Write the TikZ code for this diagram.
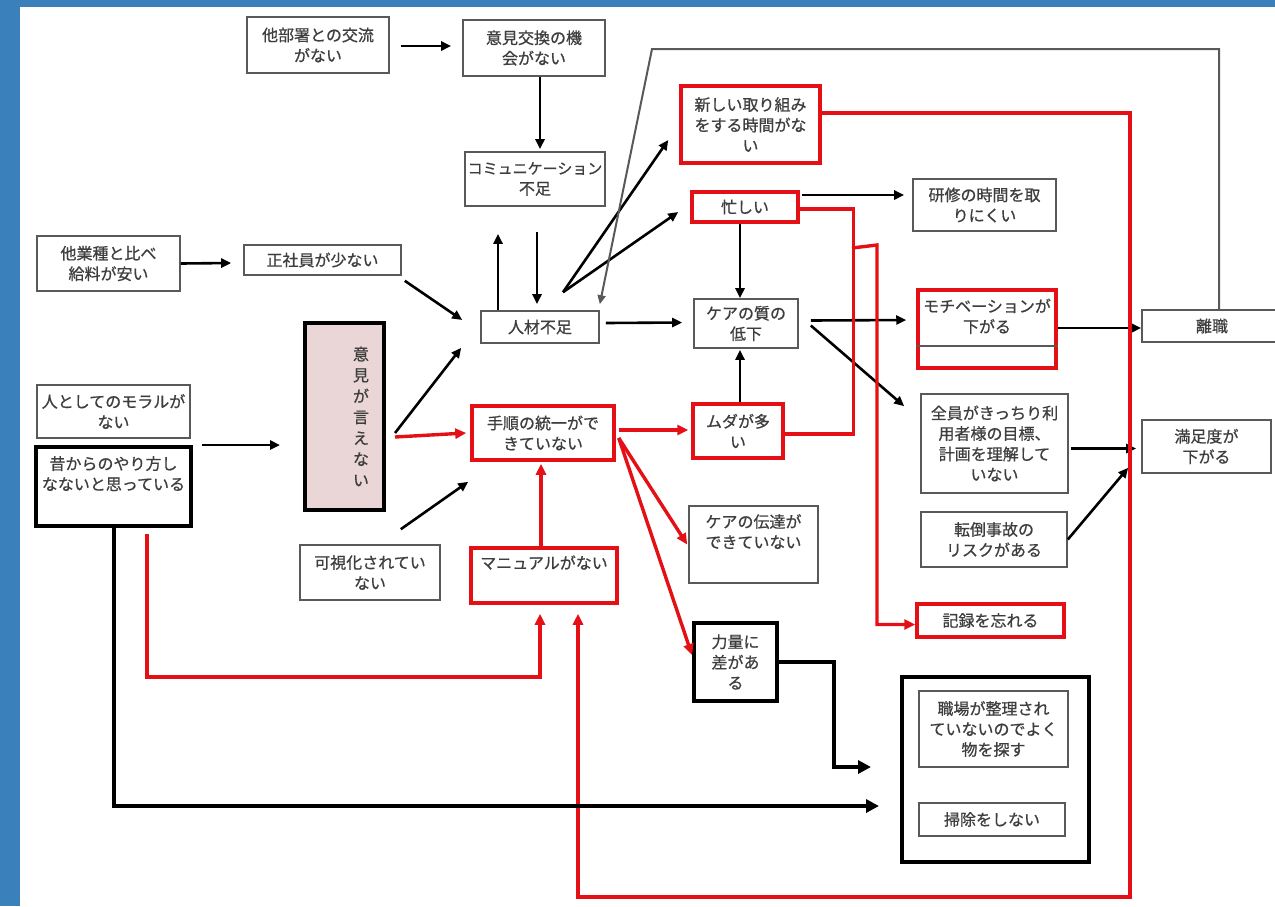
\documentclass[tikz,border=0pt]{standalone}
\usepackage{fontspec}
\setmainfont{Noto Sans CJK JP}[UprightFeatures={FakeBold=0.7}]
\usetikzlibrary{arrows.meta}
\definecolor{frameblue}{RGB}{58,128,187}
\definecolor{boxred}{RGB}{228,16,22}
\definecolor{txtgray}{RGB}{62,62,62}
\definecolor{pinkfill}{RGB}{234,214,214}

\begin{document}
\begin{tikzpicture}[x=1pt, y=-1pt, font=\fontsize{16}{20.5}\selectfont,
		box/.style={draw=black!65, line width=1.6pt, align=center, inner sep=2pt, text=txtgray},
		b_red/.style={box, draw=boxred, line width=3.5pt},
		b_thick/.style={box, draw=black, line width=4pt},
		l_1/.style={line width=2.6pt, -{Triangle[length=10pt,width=9pt]}},
		l_red/.style={line width=3.4pt, boxred, -{Triangle[length=11pt,width=10pt]}},
		l_3/.style={line width=4pt, -{Triangle[length=13pt,width=13pt]}},
		l_gray/.style={line width=2pt, black!65, -{Triangle[length=9pt,width=8pt]}}]
			% frame
			\useasboundingbox (0,0) rectangle (1275,906);
			\fill[frameblue] (0,0) rectangle (1275,906);
			\fill[white] (20,7) rectangle (1275,906);
			
			% plain boxes
			\foreach \n/\x/\y/\w/\h/\t in {
				busho/318/45/142/56/{他部署との交流\\がない},
				ikenKokan/534/48/142/56/{意見交換の機\\会がない},
				komyu/535/179/140/54/{\fontsize{15}{20.5}\selectfont コミュニケーション\\不足},
				kyuryo/108.5/263.5/143/55/{他業種と比べ\\給料が安い},
				seishain/322.5/260/157/30/{正社員が少ない},
				jinzai/540/327/118/32/{人材不足},
				moral/113.5/411.5/153/53/{人としてのモラルが\\ない},
				kashika/370/572.5/140/55/{可視化されてい\\ない},
				kenshu/984.5/205/143/52/{研修の時間を取\\りにくい},
				careShitsu/746/323.5/104/49/{ケアの質の\\低下},
				zenin/994.5/443.5/147/99/{全員がきっちり利\\用者様の目標、\\計画を理解して\\いない},
				tento/994/539.5/146/55/{転倒事故の\\リスクがある},
				manzoku/1206.5/446.5/129/53/{満足度が\\下がる},
				rishoku/1212/326/140/32/{離職},
				dentatsu/753.5/544.5/129/77/{ケアの伝達が\\できていない\\\strut},
				seiri/993.5/729/149/76/{職場が整理され\\ていないのでよく\\物を探す},
				souji/992/819.5/146/33/{掃除をしない}} {
				\node[box, minimum width=\w pt, minimum height=\h pt] (\n) at (\x,\y) {\t};
			};
			
			% red boxes
			\node[b_red, minimum width=142pt, minimum height=54pt] (tejun) at (543,433) {手順の統一がで\\きていない};
			\node[b_red, minimum width=146pt, minimum height=55pt] (manual) at (544,575.5) {マニュアルがない\\\strut};
			\node[b_red, minimum width=139pt, minimum height=77pt] (atarashii) at (750.5,124.5) {新しい取り組み\\をする時間がな\\い};
			\node[b_red, minimum width=106pt, minimum height=30pt] (isogashii) at (745,207) {忙しい};
			\node[b_red, minimum width=90pt, minimum height=54pt] (muda) at (738,431) {ムダが多\\い};
			\node[b_red, minimum width=138pt, minimum height=78pt] (motivation) at (987,329) {モチベーションが\\下がる\\\strut};
			\draw[black!65, line width=1.6pt] ([yshift=-17pt]motivation.west) -- ([yshift=-17pt]motivation.east);
			\node[b_red, minimum width=147pt, minimum height=33pt] (kiroku) at (990.5,620.5) {記録を忘れる};
			
			% thick boxes
			\node[b_thick, minimum width=155pt, minimum height=79pt] (mukashi) at (113.5,486.5) {昔からのやり方し\\なないと思っている\\\strut};
			\node[b_thick, fill=pinkfill, minimum width=79pt, minimum height=187pt, text width=49pt, align=right,
				font=\fontsize{16}{21}\selectfont] (iken) at (344.5,416.5) {意\\見\\が\\言\\え\\な\\い};
			\node[b_thick, minimum width=83pt, minimum height=78pt] (rikiryo) at (735.5,662) {力量に\\差があ\\る};
			\node[b_thick, minimum width=187pt, minimum height=185pt] (group) at (995.5,769.5) {};
			
			% black arrows
			\draw[l_1] ([xshift=11pt,yshift=-1pt]busho.east) -- ([xshift=-11pt,yshift=2pt]ikenKokan.west);
			\draw[l_1] ([xshift=6pt]ikenKokan.south) -- ([xshift=5pt,yshift=2pt]komyu.north);
			\draw[l_1] (kyuryo.east) -- ([xshift=-12pt,yshift=-3pt]seishain.west);
			\draw[l_1] ([xshift=3pt,yshift=-5pt]seishain.south east) -- ([xshift=-18pt,yshift=7pt]jinzai.west);
			\draw[l_1] ([xshift=-42pt]jinzai.north) -- ([xshift=-37pt,yshift=-27pt]komyu.south);
			\draw[l_1] ([xshift=2pt,yshift=-25pt]komyu.south) -- ([xshift=-3pt,yshift=6pt]jinzai.north);
			\coordinate (fork) at ([xshift=23pt,yshift=18pt]jinzai.north);
			\draw[l_1] (fork) -- ([xshift=-11pt,yshift=-15.5pt]atarashii.west);
			\draw[l_1] (fork) -- ([xshift=-12pt,yshift=-5pt]isogashii.west);
			\draw[l_1] ([xshift=6pt,yshift=4pt]jinzai.east) -- ([xshift=-11pt,yshift=1pt]careShitsu.west);
			\draw[l_1] ([xshift=2pt,yshift=12pt]isogashii.east) -- ([xshift=-8pt,yshift=10pt]kenshu.west);
			\draw[l_1] ([xshift=-5pt]isogashii.south) -- ([xshift=-6pt]careShitsu.north);
			\draw[l_1] ([xshift=2pt]muda.north) -- ([xshift=-6pt,yshift=-1pt]careShitsu.south);
			\draw[l_1] ([xshift=12pt,yshift=3pt]careShitsu.east) -- ([xshift=-10pt,yshift=9pt]motivation.west);
			\draw[l_1] ([xshift=12pt,yshift=-2pt]careShitsu.east) -- ([xshift=-16pt,yshift=-13pt]zenin.north west);
			\draw[l_1] ([yshift=1pt]motivation.east) -- ([yshift=-2pt]rishoku.west);
			\draw[l_1] ([xshift=2pt,yshift=-5pt]zenin.east) -- ([xshift=-5pt,yshift=-2pt]manzoku.west);
			\draw[l_1] (tento.east) -- ([xshift=-13pt,yshift=6pt]manzoku.south west);
			\draw[l_1] ([xshift=9pt]mukashi.north east) -- ([xshift=-23pt,yshift=-28.5pt]iken.west);
			\draw[l_1] ([xshift=9pt,yshift=-16.5pt]iken.east) -- ([xshift=-19pt,yshift=-4pt]jinzai.south west);
			\draw[l_1] ([xshift=-40pt,yshift=15pt]kashika.north east) -- ([xshift=-2pt,yshift=-20pt]tejun.south west);
			
			% loop back from 離職
			\coordinate (loopR) at (1219,49);
			\coordinate (loopL) at (652,49);
			\draw[l_gray] ([xshift=7pt]rishoku.north) -- (loopR) -- (loopL) -- ([yshift=6pt]jinzai.north east);
			
			% red arrows
			\draw[l_red] ([xshift=9pt,yshift=-20.5pt]iken.east) -- ([xshift=-4pt]tejun.west);
			\draw[l_red] ([xshift=-3pt]manual.north) -- ([xshift=-2pt,yshift=-2pt]tejun.south);
			\draw[l_red] ([xshift=3pt,yshift=3pt]tejun.east) -- ([xshift=-3pt,yshift=1pt]muda.west);
			\coordinate (tejunOut) at ([xshift=3pt,yshift=-5pt]tejun.east);
			\draw[l_red] (tejunOut) -- ([xshift=-1pt]dentatsu.west);
			\draw[l_red] (tejunOut) -- ([yshift=7pt]rikiryo.west);
			\draw[l_red, -] ([yshift=-3pt]muda.east) -| ([xshift=54pt,yshift=-2pt]isogashii.east) -- ([yshift=-2pt]isogashii.east);
			\coordinate (branch) at (852,248);
			\draw[l_red] (branch) -- ([xshift=25pt,yshift=3pt]branch) |- ([yshift=-4pt]kiroku.west);
			\coordinate (redTop) at (1130,113);
			\coordinate (redBot) at (1130,897);
			\draw[l_red, shorten >=9pt] ([yshift=11.5pt]atarashii.east) -- (redTop) -- (redBot) -| ([xshift=34pt]manual.south);
			\draw[l_red, shorten >=9pt] ([xshift=33.5pt,yshift=-6pt]mukashi.south) |- (540,677) -- ([xshift=-4pt]manual.south);
			
			% thick arrows
			\draw[l_3] (mukashi.south) |- ([xshift=-21pt,yshift=-36.5pt]group.west);
			\draw[l_3] (rikiryo.east) -- ([xshift=55pt]rikiryo.east) |- ([xshift=-29pt,yshift=2.5pt]group.west);
		\end{tikzpicture}
\end{document}
